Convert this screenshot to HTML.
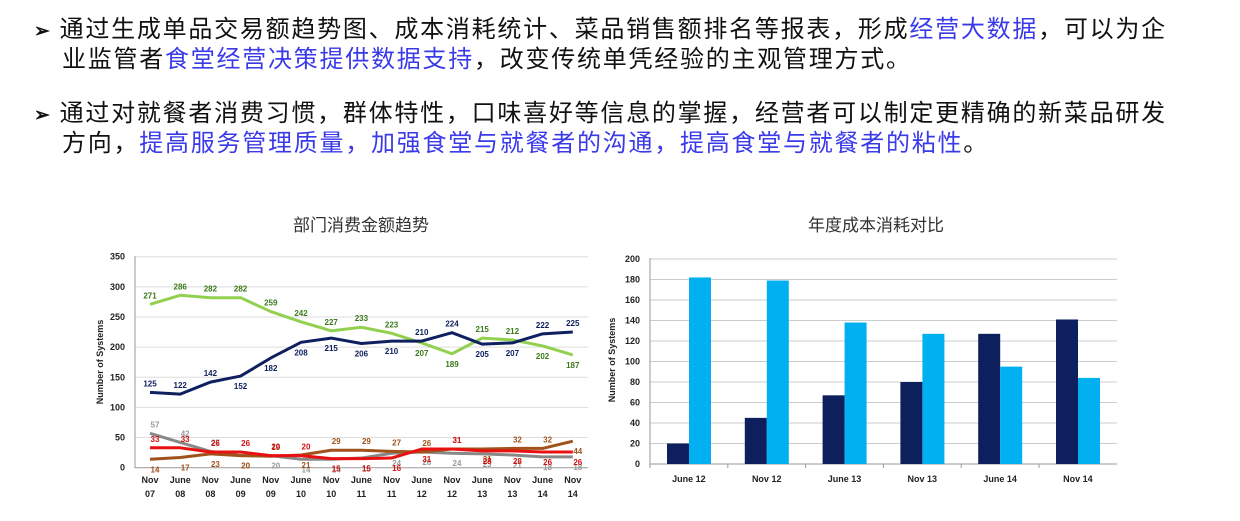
<!DOCTYPE html>
<html><head><meta charset="utf-8"><style>
body{margin:0;width:1240px;height:521px;background:#fff;overflow:hidden;position:relative;font-family:"Liberation Sans","Noto Sans CJK SC",sans-serif}
.p{position:absolute;left:34px;font-size:24px;line-height:28px;letter-spacing:1.75px;color:#111;white-space:nowrap}
.b{color:#3a3ae8}
</style></head><body>
<div class="p" style="top:16px"><span style="font-size:19px;margin-right:8px;font-weight:bold">➢</span>通过生成单品交易额趋势图、成本消耗统计、菜品销售额排名等报表，形成<span class="b">经营大数据</span>，可以为企<br><span style="margin-left:28px"></span>业监管者<span class="b">食堂经营决策提供数据支持</span>，改变传统单凭经验的主观管理方式。</div>
<div class="p" style="top:100px"><span style="font-size:19px;margin-right:8px;font-weight:bold">➢</span>通过对就餐者消费习惯，群体特性，口味喜好等信息的掌握，经营者可以制定更精确的新菜品研发<br><span style="margin-left:28px"></span>方向，<span class="b">提高服务管理质量，加强食堂与就餐者的沟通，提高食堂与就餐者的粘性</span>。</div>
<svg id="c" width="1240" height="521" style="position:absolute;left:0;top:0" font-family="Liberation Sans, Noto Sans CJK SC, sans-serif">
<text x="361" y="231" text-anchor="middle" font-size="17" fill="#333">部门消费金额趋势</text>
<text x="876" y="231" text-anchor="middle" font-size="17" fill="#333">年度成本消耗对比</text>
<g id="L"></g><g id="R"></g>
</svg>
<script>
const lineCats=["Nov|07","June|08","Nov|08","June|09","Nov|09","June|10","Nov|10","June|11","Nov|11","June|12","Nov|12","June|13","Nov|13","June|14","Nov|14"];
const lineTicks=[0,50,100,150,200,250,300,350];
const navy=[125,122,142,152,182,208,215,206,210,210,224,205,207,222,225];
const green=[271,286,282,282,259,242,227,233,223,207,189,215,212,202,187];
const red=[33,33,26,26,20,20,15,15,16,31,31,28,28,26,26];
const brown=[14,17,23,20,19,21,29,29,27,26,31,31,32,32,44];
const gray=[57,42,27,20,20,14,14,16,24,26,24,23,21,18,18];
const barCats=["June 12","Nov 12","June 13","Nov 13","June 14","Nov 14"];
const barTicks=[0,20,40,60,80,100,120,140,160,180,200];
const barDark=[20,45,67,80,127,141];
const barLight=[182,179,138,127,95,84];
const NS="http://www.w3.org/2000/svg";
function mk(p,t,a){const e=document.createElementNS(NS,t);for(const k in a)e.setAttribute(k,a[k]);p.appendChild(e);return e;}
const L=document.getElementById('L');
const lx=i=>150+i*30.2, ly=v=>467.7-v*(211/350);
lineTicks.forEach(t=>{
 const g=mk(L,'line',{x1:135,x2:588,y1:ly(t),y2:ly(t),stroke:t?'#ddd':'#999','stroke-width':1});
 
 
 const tx=mk(L,'text',{x:125,y:ly(t)+3,'text-anchor':'end','font-size':9,'font-weight':'bold',fill:'#222'});tx.textContent=t;
 
 
});
mk(L,'line',{x1:135,x2:135,y1:256,y2:468,stroke:'#999'});
const yt=mk(L,'text',{transform:'translate(103,362) rotate(-90)','text-anchor':'middle','font-size':9,'font-weight':'bold',fill:'#222'});yt.textContent='Number of Systems';


lineCats.forEach((c,i)=>{const [a,b]=c.split('|');
 const t=mk(L,'text',{x:lx(i),y:483,'text-anchor':'middle','font-size':9,'font-weight':'bold',fill:'#222'});t.textContent=a;
 
 
 const t2=mk(L,'text',{x:lx(i),y:497,'text-anchor':'middle','font-size':9,'font-weight':'bold',fill:'#222'});t2.textContent=b;
 
 
});
// label side: 1 = above, 0 = below
const navyUp="111000000110011";
const greenUp="111111111001100";
const redUp="111111000010000";
const brownUp="000010111110110";
const grayUp="111000000000000";
const series=[[gray,'#888','#999',grayUp],[brown,'#a0521a','#a0521a',brownUp],[red,'#e81010','#d01010',redUp],[green,'#92d050','#3a7a1a',greenUp],[navy,'#0f2060','#0f2060',navyUp]];
const names=['series-gray','series-brown','series-red','series-green','series-navy'];
series.forEach(([d,col,lc,ups],si)=>{
 const pl=mk(L,'polyline',{points:d.map((v,i)=>lx(i)+','+ly(v)).join(' '),fill:'none',stroke:col,'stroke-width':3,'stroke-linejoin':'round'});
 
 
 d.forEach((v,i)=>{
  const up=ups[i]==='1';
  const t=mk(L,'text',{x:lx(i)+(si<3?5:0),y:ly(v)+(up?-6:13),'text-anchor':'middle','font-size':8,'font-weight':'bold',fill:lc});t.textContent=v;
  
  
 });
});
const R=document.getElementById('R');
const bx0=650,bw=77.8,by=v=>464-v*(205/200);
barTicks.forEach(t=>{
 const g=mk(R,'line',{x1:650,x2:1117,y1:by(t),y2:by(t),stroke:t?'#ccc':'#999'});
 
 
 const tx=mk(R,'text',{x:640,y:by(t)+3,'text-anchor':'end','font-size':9,'font-weight':'bold',fill:'#222'});tx.textContent=t;
 
 
});
mk(R,'line',{x1:650,x2:650,y1:258,y2:464,stroke:'#999'});
const yt2=mk(R,'text',{transform:'translate(615,360) rotate(-90)','text-anchor':'middle','font-size':9,'font-weight':'bold',fill:'#222'});yt2.textContent='Number of Systems';


barCats.forEach((c,i)=>{
 const x=bx0+i*bw;
 const r1=mk(R,'rect',{x:x+17,y:by(barDark[i]),width:22,height:464-by(barDark[i]),fill:'#0d1f5c'});
 
 
 const r2=mk(R,'rect',{x:x+39,y:by(barLight[i]),width:22,height:464-by(barLight[i]),fill:'#00b0f0'});
 
 
 mk(R,'line',{x1:x,x2:x,y1:464,y2:468,stroke:'#999'});
 const t=mk(R,'text',{x:x+bw/2,y:482,'text-anchor':'middle','font-size':9,'font-weight':'bold',fill:'#222'});t.textContent=c;
 
 
});
</script>
</body></html>
